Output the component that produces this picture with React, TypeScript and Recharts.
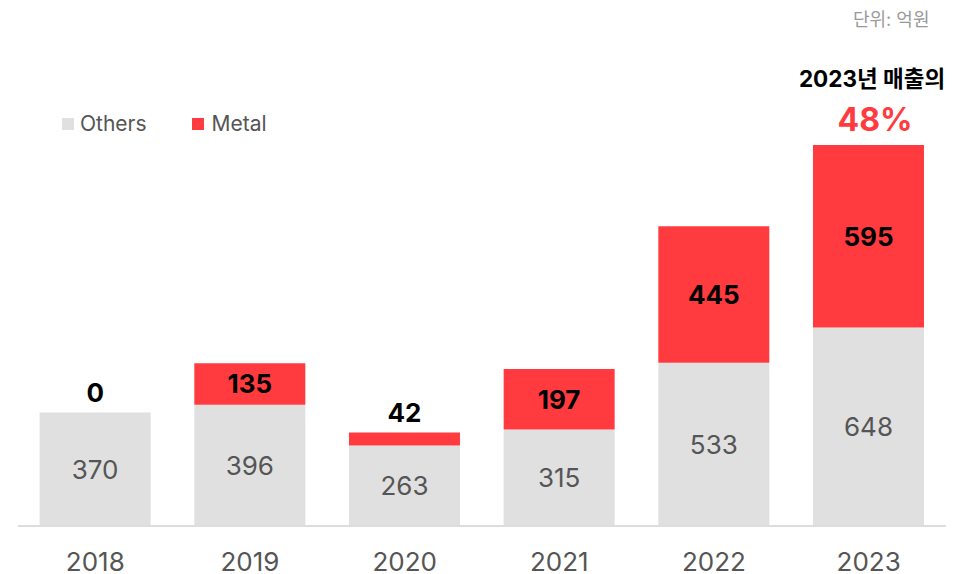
import React from 'react';
import { BarChart, Bar, XAxis, YAxis, LabelList } from 'recharts';

const years = ['2018', '2019', '2020', '2021', '2022', '2023'];
const others = [370, 396, 263, 315, 533, 648];
const metal = [0, 135, 42, 197, 445, 595];

const data = years.map((y, i) => ({ year: y, others: others[i], metal: metal[i] }));

const FONT = 'Inter, "Noto Sans CJK KR", sans-serif';
const SMALL = 60;

const OthersLabel = (props: any) => {
  const { x, y, width, height, value } = props;
  return (
    <text x={x + width / 2} y={y + height / 2} textAnchor="middle" dominantBaseline="central"
      fill="#555" fontSize={26} fontFamily={FONT}>{value}</text>
  );
};

// Label for small metal values, drawn above the stack using the others bar's scale
const SmallMetalLabel = (props: any) => {
  const { x, y, width, height, index } = props;
  const m = metal[index];
  const o = others[index];
  if (m >= SMALL) return null;
  const scale = height / o;
  const top = y - m * scale;
  return (
    <text x={x + width / 2} y={top - 20} textAnchor="middle" dominantBaseline="central"
      fill="#000" fontSize={26} fontWeight={700} fontFamily={FONT}>{m}</text>
  );
};

const MetalLabel = (props: any) => {
  const { x, y, width, height, value } = props;
  if (value < SMALL) return null;
  return (
    <text x={x + width / 2} y={y + height / 2} textAnchor="middle" dominantBaseline="central"
      fill="#000" fontSize={26} fontWeight={700} fontFamily={FONT}>{value}</text>
  );
};

const Tick = (props: any) => {
  const { x, y, payload } = props;
  return (
    <text x={x} y={y + 27} textAnchor="middle" dominantBaseline="central"
      fill="#555" fontSize={26} fontFamily={FONT}>{payload.value}</text>
  );
};

export default function App() {
  return (
    <div style={{ position: 'absolute', left: 0, top: 0, width: 973, height: 574, background: '#fff', fontFamily: FONT }}>
      <BarChart width={973} height={574} data={data}
        margin={{ top: 97, right: 27, bottom: 0, left: 18 }} barCategoryGap="14%">
        <XAxis dataKey="year" axisLine={{ stroke: '#ddd', strokeWidth: 2 }} tickLine={false}
          height={48} tick={<Tick />} interval={0} />
        <YAxis hide domain={[0, 1400]} />
        <Bar dataKey="others" stackId="a" fill="#e0e0e0" isAnimationActive={false}>
          <LabelList dataKey="others" content={<OthersLabel />} />
          <LabelList dataKey="metal" content={<SmallMetalLabel />} />
        </Bar>
        <Bar dataKey="metal" stackId="a" fill="#ff3b40" isAnimationActive={false}>
          <LabelList dataKey="metal" content={<MetalLabel />} />
        </Bar>
      </BarChart>
      <div style={{ position: 'absolute', left: 853, top: 5, fontSize: 18, color: '#9a9a9a' }}>단위: 억원</div>
      <div style={{ position: 'absolute', left: 872 - 100, width: 200, top: 61, textAlign: 'center', fontSize: 22.5, fontWeight: 700, color: '#000' }}>2023년 매출의</div>
      <div style={{ position: 'absolute', left: 875 - 100, width: 200, top: 100, textAlign: 'center', fontSize: 32, fontWeight: 700, color: '#ff3b40' }}>48%</div>
      <div style={{ position: 'absolute', left: 62, top: 111, display: 'flex', alignItems: 'center', fontSize: 21, color: '#555' }}>
        <span style={{ width: 12, height: 12, background: '#e0e0e0', display: 'inline-block', marginRight: 6 }} />
        <span>Others</span>
        <span style={{ width: 12, height: 12, background: '#ff3b40', display: 'inline-block', marginLeft: 45, marginRight: 8 }} />
        <span>Metal</span>
      </div>
    </div>
  );
}
